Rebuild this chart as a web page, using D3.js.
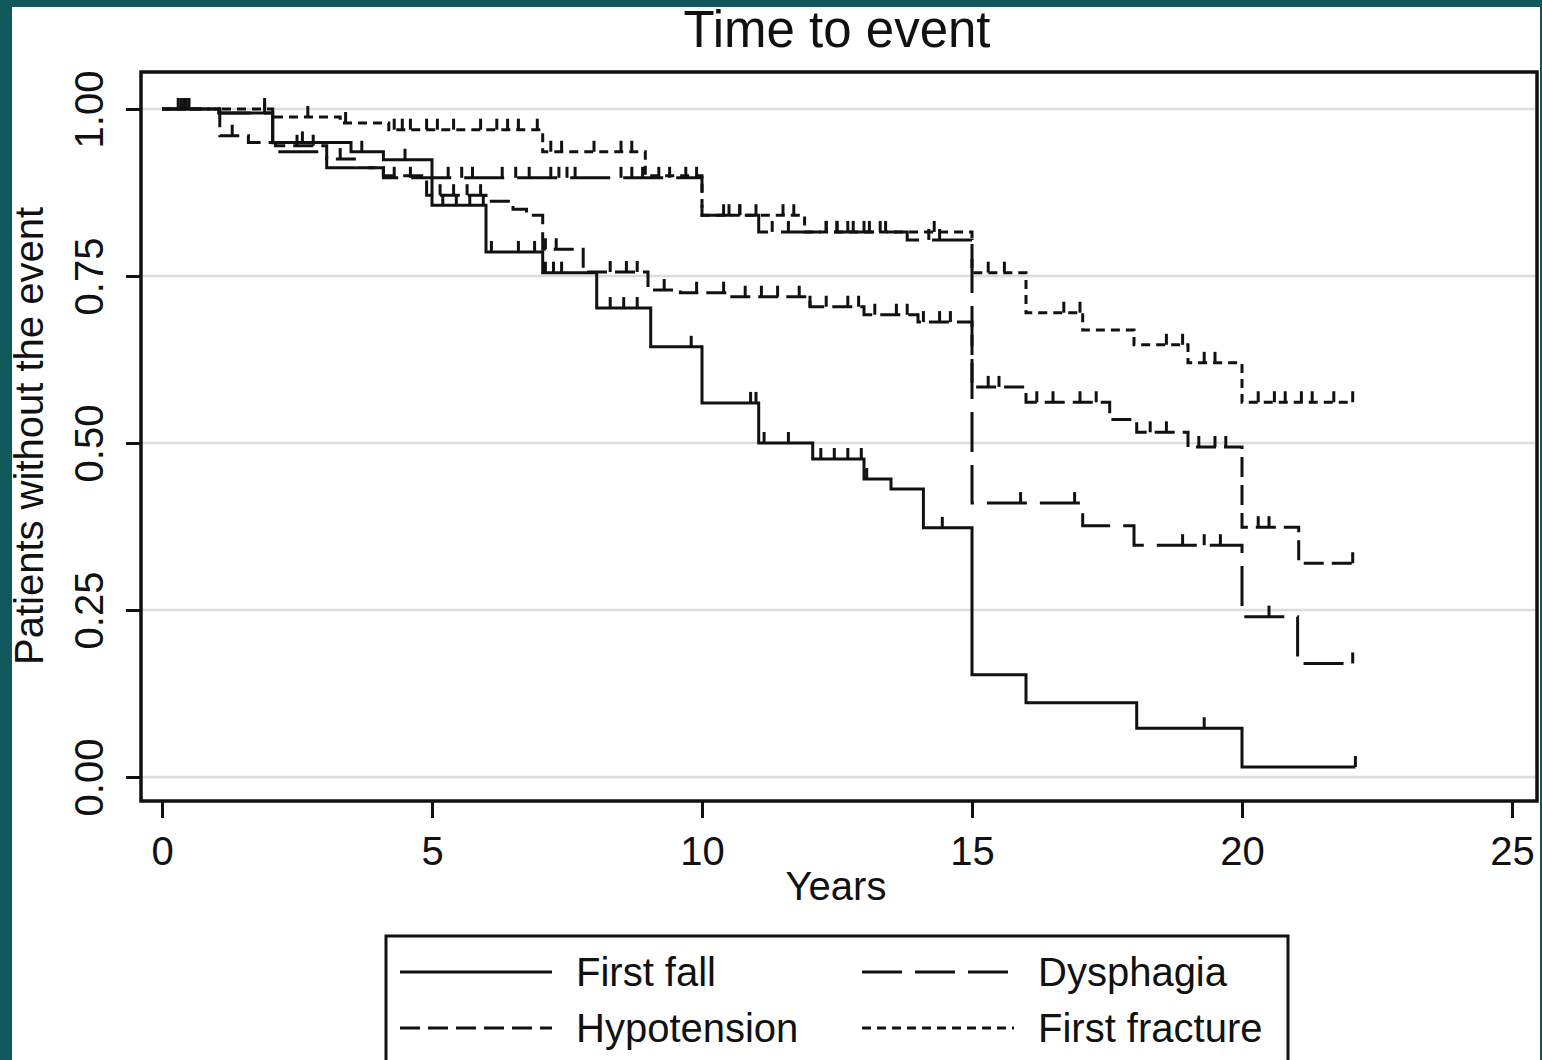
<!DOCTYPE html>
<html><head><meta charset="utf-8">
<script src="https://cdn.jsdelivr.net/npm/d3@7"></script>
<style>html,body{margin:0;padding:0;background:#11585c;}svg{display:block;}</style>
</head><body>
<svg id="chart" width="1542" height="1060"></svg>
<script>
// ---------- data ----------
const chartTitle = "Time to event";
const xTicks = [0, 5, 10, 15, 20, 25];
const yTicks = [0, 0.25, 0.5, 0.75, 1];
const yTickLabels = ["0.00", "0.25", "0.50", "0.75", "1.00"];
const seriesNames = ["First fall", "Dysphagia", "Hypotension", "First fracture"];

// step points: times and survival values
const fallT = [0, 1.05, 2.05, 3.5, 4.1, 5.0, 6.0, 7.05, 8.05, 9.05, 10.0, 11.05, 12.05, 13.0, 13.5, 14.1, 15.0, 16.0, 18.05, 20.0];
const fallS = [1, 0.994, 0.95, 0.936, 0.924, 0.856, 0.786, 0.755, 0.702, 0.644, 0.56, 0.50, 0.476, 0.446, 0.431, 0.373, 0.153, 0.111, 0.073, 0.015];
const fallEnd = 22.1;
const fallCens = [0.3, 0.35, 0.4, 0.45, 0.5, 1.9, 2.6, 3.7, 4.5, 5.2, 5.45, 5.7, 5.95, 6.1, 6.6, 6.9, 7.1, 7.25, 7.4, 8.3, 8.55, 8.8, 9.8, 10.9, 11.0, 11.15, 11.6, 12.2, 12.45, 12.7, 12.95, 13.05, 14.45, 19.3, 22.1];

const dysT = [0, 1.07, 2.05, 3.05, 4.1, 10.0, 11.05, 13.8, 15.0, 17.05, 18.0, 20.0, 21.03];
const dysS = [1, 0.994, 0.936, 0.912, 0.897, 0.841, 0.816, 0.804, 0.41, 0.376, 0.347, 0.24, 0.17];
const dysEnd = 22.05;
const dysCens = [4.3, 4.6, 5.3, 5.55, 5.75, 6.3, 6.55, 6.8, 7.2, 7.35, 7.5, 7.65, 8.5, 8.7, 8.9, 9.2, 9.4, 9.7, 9.9, 10.4, 10.7, 11.3, 11.6, 12.3, 12.5, 12.7, 13.1, 13.4, 14.2, 14.4, 15.9, 16.9, 18.9, 19.3, 19.6, 20.5, 22.05];

const hypT = [0, 1.07, 1.6, 2.1, 3.05, 3.6, 4.1, 4.9, 6.0, 6.5, 6.75, 7.05, 7.8, 9.0, 9.6, 10.5, 12.0, 13.0, 14.0, 15.0, 16.0, 17.55, 18.05, 19.0, 20.0, 21.05];
const hypS = [1, 0.96, 0.95, 0.945, 0.925, 0.912, 0.90, 0.871, 0.862, 0.85, 0.841, 0.79, 0.756, 0.729, 0.725, 0.719, 0.704, 0.692, 0.681, 0.584, 0.561, 0.535, 0.516, 0.494, 0.374, 0.32];
const hypEnd = 22.05;
const hypCens = [1.3, 2.5, 2.8, 3.3, 5.15, 5.4, 5.65, 5.9, 7.1, 7.3, 8.3, 8.6, 8.8, 9.3, 9.9, 10.4, 10.8, 11.1, 11.4, 11.8, 12.0, 12.3, 12.7, 12.9, 13.2, 13.6, 13.8, 14.1, 14.4, 14.6, 15.3, 15.5, 16.2, 16.5, 17.0, 17.3, 18.3, 18.6, 19.2, 19.5, 19.7, 20.3, 20.5, 22.05];

const fraT = [0, 2.05, 3.3, 4.2, 7.05, 8.95, 10.0, 11.9, 15.0, 16.0, 17.05, 18.0, 19.0, 20.0];
const fraS = [1, 0.988, 0.979, 0.969, 0.936, 0.90, 0.841, 0.816, 0.755, 0.695, 0.669, 0.647, 0.62, 0.561];
const fraEnd = 22.05;
const fraCens = [1.9, 2.7, 3.4, 4.3, 4.45, 4.6, 4.9, 5.1, 5.4, 5.9, 6.2, 6.4, 6.6, 6.95, 7.2, 7.4, 8.0, 8.5, 8.7, 10.5, 10.7, 11.0, 11.5, 11.7, 12.3, 12.5, 12.8, 13.0, 13.3, 14.3, 15.3, 15.6, 16.7, 17.0, 18.6, 18.9, 19.3, 19.5, 20.3, 20.6, 20.8, 21.1, 21.3, 21.7, 22.05];

// ---------- layout ----------
const svg = d3.select("#chart");
const W = 1542, H = 1060;
const plot = {left: 141, top: 72, right: 1537, bottom: 801};
const x = d3.scaleLinear().domain([0, 25]).range([162, 1512]);
const y = d3.scaleLinear().domain([0, 1]).range([777, 109]);
const font = "'Liberation Sans', Arial, Helvetica, sans-serif";

svg.append("rect").attr("x", 0).attr("y", 0).attr("width", W).attr("height", H).attr("fill", "#11585c");
svg.append("rect").attr("x", 12).attr("y", 7).attr("width", 1528).attr("height", H - 7).attr("fill", "#ffffff");

// gridlines
svg.append("g").selectAll("line").data(yTicks).join("line")
  .attr("x1", plot.left).attr("x2", plot.right)
  .attr("y1", d => y(d)).attr("y2", d => y(d))
  .attr("stroke", "#dcdcdc").attr("stroke-width", 2.5);

// axes
const yAxis = d3.axisLeft(y).tickValues(yTicks).tickSize(15).tickFormat((d, i) => yTickLabels[i]);
const gy = svg.append("g").attr("transform", `translate(${plot.left},0)`).call(yAxis);
gy.select(".domain").remove();
gy.selectAll(".tick line").attr("stroke", "#111").attr("stroke-width", 3);
gy.selectAll(".tick text").attr("font-family", font).attr("font-size", 40).attr("fill", "#111")
  .attr("text-anchor", "middle").attr("x", 0).attr("dy", 0)
  .attr("transform", "translate(-38,0) rotate(-90)");

const xAxis = d3.axisBottom(x).tickValues(xTicks).tickSize(17).tickFormat(d3.format("d"));
const gx = svg.append("g").attr("transform", `translate(0,${plot.bottom})`).call(xAxis);
gx.select(".domain").remove();
gx.selectAll(".tick line").attr("stroke", "#111").attr("stroke-width", 3);
gx.selectAll(".tick text").attr("font-family", font).attr("font-size", 40).attr("fill", "#111")
  .attr("y", 64).attr("dy", 0);

// frame
svg.append("rect").attr("x", plot.left).attr("y", plot.top)
  .attr("width", plot.right - plot.left).attr("height", plot.bottom - plot.top)
  .attr("fill", "none").attr("stroke", "#111").attr("stroke-width", 3.5);

// titles
svg.append("text").attr("x", 837).attr("y", 47).attr("text-anchor", "middle")
  .attr("font-family", font).attr("font-size", 51).attr("fill", "#111").text(chartTitle);
svg.append("text").attr("x", 836).attr("y", 900).attr("text-anchor", "middle")
  .attr("font-family", font).attr("font-size", 40).attr("fill", "#111").text("Years");
svg.append("text").attr("transform", "translate(43,436) rotate(-90)").attr("text-anchor", "middle")
  .attr("font-family", font).attr("font-size", 40).attr("fill", "#111").text("Patients without the event");

// curves
const series = [
  {name: seriesNames[0], t: fallT, s: fallS, end: fallEnd, cens: fallCens, dash: null},
  {name: seriesNames[1], t: dysT, s: dysS, end: dysEnd, cens: dysCens, dash: "40,13"},
  {name: seriesNames[2], t: hypT, s: hypS, end: hypEnd, cens: hypCens, dash: "20,8"},
  {name: seriesNames[3], t: fraT, s: fraS, end: fraEnd, cens: fraCens, dash: "9,6"}
];
const line = d3.line().x(d => x(d[0])).y(d => y(d[1])).curve(d3.curveStepAfter);
function survAt(ser, t) {
  let v = ser.s[0];
  for (let i = 0; i < ser.t.length; i++) if (ser.t[i] <= t) v = ser.s[i];
  return v;
}
const gc = svg.append("g");
series.forEach(ser => {
  const pts = ser.t.map((t, i) => [t, ser.s[i]]);
  pts.push([ser.end, ser.s[ser.s.length - 1]]);
  gc.append("path").attr("d", line(pts)).attr("fill", "none")
    .attr("stroke", "#111").attr("stroke-width", 3)
    .attr("stroke-dasharray", ser.dash);
  gc.append("g").selectAll("line").data(ser.cens).join("line")
    .attr("x1", d => x(d)).attr("x2", d => x(d))
    .attr("y1", d => y(survAt(ser, d)))
    .attr("y2", d => y(survAt(ser, d)) - 11)
    .attr("stroke", "#111").attr("stroke-width", 3);
});

// legend
const lg = svg.append("g");
lg.append("rect").attr("x", 386).attr("y", 936).attr("width", 902).attr("height", 140)
  .attr("fill", "#fff").attr("stroke", "#111").attr("stroke-width", 3);
const legPos = [[400, 972], [862, 972], [400, 1028], [862, 1028]];
const legOrder = [0, 1, 2, 3];
legOrder.forEach((si, k) => {
  const [lx, ly] = legPos[k];
  const ser = series[si];
  lg.append("line").attr("x1", lx).attr("x2", lx + 152).attr("y1", ly).attr("y2", ly)
    .attr("stroke", "#111").attr("stroke-width", 3).attr("stroke-dasharray", ser.dash);
  lg.append("text").attr("x", lx + 176).attr("y", ly + 14)
    .attr("font-family", font).attr("font-size", 40).attr("fill", "#111").text(ser.name);
});
</script>
</body></html>
